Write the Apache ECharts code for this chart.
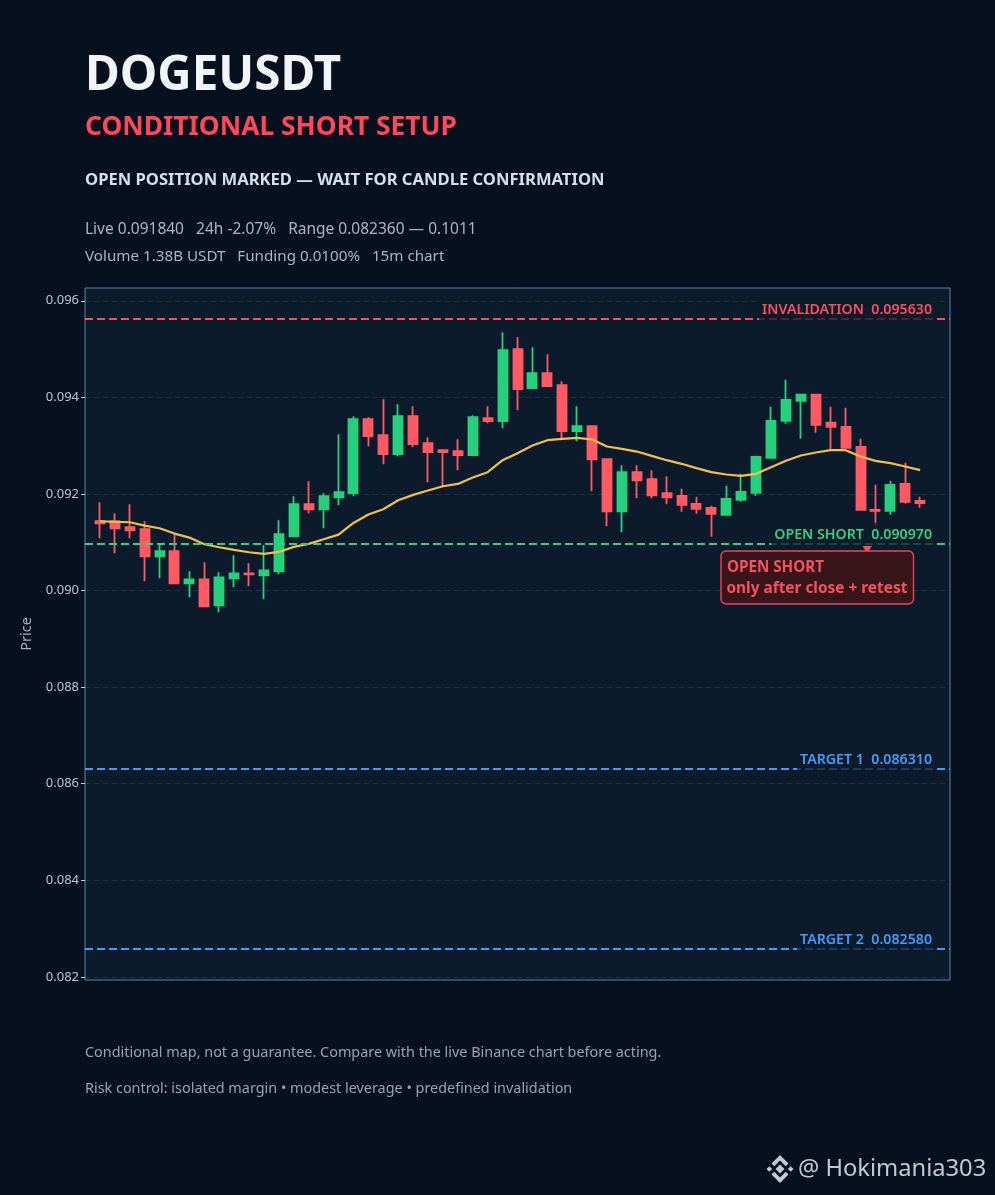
<!DOCTYPE html>
<html><head><meta charset="utf-8">
<style>html,body{margin:0;padding:0;background:#07101f}#c{width:995px;height:1195px}</style>
<script src="https://cdn.jsdelivr.net/npm/echarts@6/dist/echarts.min.js"></script>
</head><body><div id="c"></div>
<script>
// Prices in units of 1e-3 USDT
const opens=[91.435,91.435,91.310,91.269,90.709,90.813,90.150,90.232,89.694,90.253,90.357,90.315,90.398,91.124,91.787,91.683,91.932,92.015,93.548,93.217,92.823,93.610,93.051,92.906,92.885,92.802,93.569,93.507,94.999,94.191,94.502,94.253,93.300,93.403,92.719,91.642,92.450,92.305,92.015,91.961,91.795,91.712,91.567,91.878,92.023,92.748,93.515,93.930,94.054,93.474,93.391,92.976,91.671,91.650,92.210,91.857];
const closes=[91.393,91.289,91.248,90.709,90.813,90.150,90.232,89.673,90.274,90.357,90.336,90.419,91.165,91.787,91.683,91.953,92.035,93.548,93.196,92.823,93.610,93.030,92.864,92.864,92.802,93.590,93.507,94.978,94.170,94.502,94.232,93.300,93.403,92.719,91.642,92.450,92.284,91.973,91.932,91.774,91.691,91.588,91.899,92.044,92.769,93.515,93.950,94.054,93.432,93.391,92.956,91.671,91.650,92.189,91.836,91.809];
const lows=[91.082,90.771,91.082,90.191,90.253,90.150,89.859,89.673,89.549,90.067,90.087,89.818,90.336,91.124,91.600,91.289,91.766,91.953,92.989,92.616,92.782,92.968,92.243,92.160,92.491,92.802,93.465,93.362,93.735,94.191,94.211,93.134,93.092,92.056,91.331,91.206,91.911,91.911,91.787,91.629,91.588,91.111,91.567,91.836,91.961,92.748,93.453,93.142,93.266,92.914,92.956,91.650,91.339,91.567,91.795,91.712];
const highs=[91.828,91.600,91.787,91.435,90.972,91.165,90.398,90.585,90.378,90.730,90.564,90.937,91.455,91.953,92.263,92.015,93.237,93.610,93.590,93.963,93.859,93.818,93.175,92.927,93.134,93.631,93.818,95.351,95.248,95.040,94.895,94.336,93.818,93.403,92.719,92.595,92.595,92.491,92.367,92.106,91.940,91.754,92.168,92.417,92.790,93.805,94.365,94.054,94.075,93.805,93.785,93.142,92.189,92.272,92.645,91.940];
const maLine=[91.435,91.421,91.414,91.345,91.289,91.179,91.096,90.958,90.896,90.840,90.792,90.757,90.799,90.903,90.965,91.061,91.158,91.400,91.573,91.683,91.870,91.980,92.070,92.160,92.208,92.339,92.450,92.699,92.844,93.003,93.113,93.141,93.161,93.127,92.982,92.934,92.878,92.788,92.699,92.624,92.534,92.451,92.403,92.375,92.417,92.555,92.686,92.797,92.859,92.907,92.907,92.776,92.686,92.638,92.569,92.493];
const levelNames=['INVALIDATION','OPEN SHORT','TARGET 1','TARGET 2'];
const levelValues=[0.09563,0.09097,0.08631,0.08258];
const levelColors=['#ff4d5e','#2ed184','#3f9dfb','#3f9dfb'];
const tickValues=[0.082,0.084,0.086,0.088,0.090,0.092,0.094,0.096];

const FONT='"Noto Sans"';
const k=v=>v/1000;
// one empty slot before the first candle and two after the last, as in the picture
const pad=[null], padEnd=[null,null];
const cats=Array.from({length:opens.length+3},(_,i)=>String(i));
const candleData=pad.concat(opens.map((o,i)=>[k(o),k(closes[i]),k(lows[i]),k(highs[i])])).concat(padEnd).map(d=>d===null?['-','-','-','-']:d);
const maData=pad.concat(maLine.map(k)).concat(padEnd).map(d=>d===null?'-':d);

function txt(x,y,text,size,weight,fill){return{type:'text',z:20,style:{x,y,text,fontFamily:FONT,fontSize:size,fontWeight:weight,fill,textVerticalAlign:'middle'}};}
function poly(pts,fill){return{type:'polygon',z:20,shape:{points:pts},style:{fill}};}
const lx=780,ly=1169,wm='#c3c9d1';
const rel=p=>p.map(q=>[lx+q[0],ly+q[1]]);

const chart=echarts.init(document.getElementById('c'),null,{renderer:'canvas',width:995,height:1195});
chart.setOption({
 animation:false,
 backgroundColor:'#07101f',
 grid:{left:85,top:288,width:865,height:692,show:true,backgroundColor:'#0c1b2b',borderColor:'#5f83a8',borderWidth:1},
 xAxis:{type:'category',data:cats,boundaryGap:false,show:false},
 yAxis:{type:'value',min:0.081934,max:0.096265,z:3,scale:true,
  name:'Price',nameLocation:'middle',nameGap:47,nameTextStyle:{color:'#a3b0bd',fontFamily:FONT,fontSize:14.5},
  axisLine:{show:false},
  axisTick:{show:true,length:4,customValues:tickValues,lineStyle:{color:'#c4ced8',width:1}},
  axisLabel:{customValues:tickValues,color:'#b8c4d0',fontFamily:FONT,fontSize:13,margin:6,padding:[3,0,0,0],formatter:v=>v.toFixed(3)},
  splitLine:{show:true,lineStyle:{color:'rgba(110,140,165,0.2)',type:[5,4],width:1}}
 },
 series:[
  {type:'candlestick',data:candleData,barWidth:9.5,z:2,clip:true,
   itemStyle:{color:'#26d07c',color0:'#ff5a64',borderColor:'#26d07c',borderColor0:'#ff5a64',borderWidth:1.8}},
  {type:'line',data:maData,showSymbol:false,smooth:false,z:4,connectNulls:false,
   lineStyle:{color:'#f5c04a',width:2.2},
   markLine:{silent:true,symbol:'none',precision:6,z:5,animation:false,
    data:levelValues.map((v,i)=>({yAxis:v,
      lineStyle:{color:levelColors[i],type:[8,4],width:2.2},
      label:{show:true,position:'insideEndTop',distance:0,offset:[-15,3],
        formatter:levelNames[i]+'  '+v.toFixed(6),
        color:levelColors[i],fontFamily:FONT,fontWeight:600,fontSize:14.2,lineHeight:18,
        backgroundColor:'rgba(12,27,43,0.75)',padding:[3,3,3,3]}}))
   }}
 ],
 graphic:{elements:[
  txt(85,76,'DOGEUSDT',47.5,700,'#f1f5f9'),
  txt(85,127,'CONDITIONAL SHORT SETUP',26.4,700,'#ff4757'),
  txt(85,180,'OPEN POSITION MARKED — WAIT FOR CANDLE CONFIRMATION',16.6,700,'#d5deea'),
  txt(85,230,'Live 0.091840   24h -2.07%   Range 0.082360 — 0.1011',15.5,400,'#aab6c4'),
  txt(85,257,'Volume 1.38B USDT   Funding 0.0100%   15m chart',15.2,400,'#aab6c4'),
  txt(85,1053,'Conditional map, not a guarantee. Compare with the live Binance chart before acting.',14.4,400,'#97a3b2'),
  txt(85,1089,'Risk control: isolated margin • modest leverage • predefined invalidation',14.4,400,'#97a3b2'),
  // callout
  {type:'polygon',z:20,shape:{points:[[862.5,546],[872,546],[867,553]]},style:{fill:'#ff4d5e'}},
  {type:'rect',z:21,shape:{x:721,y:551,width:192.5,height:53,r:5},style:{fill:'#38151a',stroke:'#e3495a',lineWidth:1.4}},
  {type:'text',z:22,style:{x:727,y:568,text:'OPEN SHORT',fontFamily:FONT,fontSize:15.2,fontWeight:700,fill:'#f9505f',textVerticalAlign:'middle'}},
  {type:'text',z:22,style:{x:726.5,y:589,text:'only after close + retest',fontFamily:FONT,fontSize:15.4,fontWeight:700,fill:'#f9505f',textVerticalAlign:'middle'}},
  // watermark
  poly(rel([[0,-4.5],[4.5,0],[0,4.5],[-4.5,0]]),wm),
  poly(rel([[-13.5,0],[-10.7,-2.8],[-7.9,0],[-10.7,2.8]]),wm),
  poly(rel([[13.5,0],[10.7,-2.8],[7.9,0],[10.7,2.8]]),wm),
  poly(rel([[0,-14],[8.5,-5.5],[5.7,-2.7],[0,-8.4],[-5.7,-2.7],[-8.5,-5.5]]),wm),
  poly(rel([[0,14],[8.5,5.5],[5.7,2.7],[0,8.4],[-5.7,2.7],[-8.5,5.5]]),wm),
  txt(798,1169,'@ Hokimania303',23.7,400,wm)
 ]}
});
</script></body></html>
